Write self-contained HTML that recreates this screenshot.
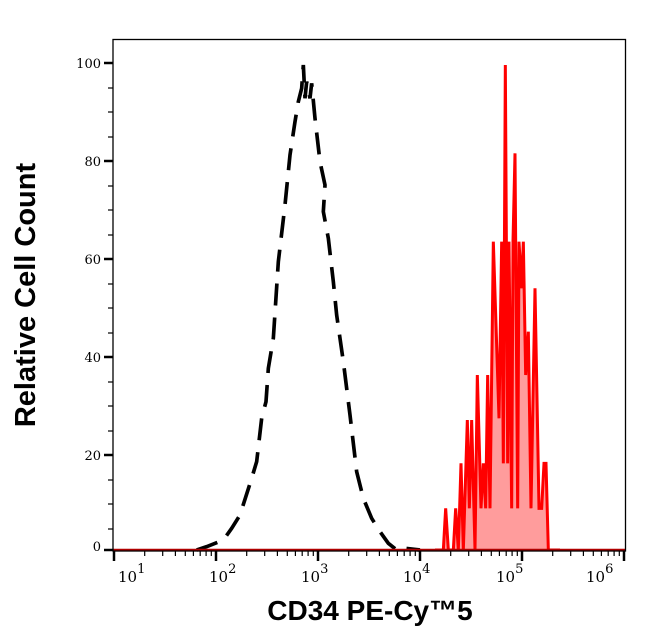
<!DOCTYPE html>
<html><head><meta charset="utf-8"><style>body{margin:0;background:#fff}svg{display:block}</style></head>
<body>
<svg width="646" height="641" viewBox="0 0 646 641" xmlns="http://www.w3.org/2000/svg">
<defs>
<g id="minor" stroke="#000" stroke-width="1.2">
<line x1="30.7" y1="551" x2="30.7" y2="556"/><line x1="48.7" y1="551" x2="48.7" y2="556"/><line x1="61.4" y1="551" x2="61.4" y2="556"/><line x1="71.3" y1="551" x2="71.3" y2="556"/><line x1="79.4" y1="551" x2="79.4" y2="556"/><line x1="86.2" y1="551" x2="86.2" y2="556"/><line x1="92.1" y1="551" x2="92.1" y2="556"/><line x1="97.3" y1="551" x2="97.3" y2="556"/>
<line x1="0" y1="551" x2="0" y2="561" stroke-width="2.5"/>
</g>
</defs>
<rect width="646" height="641" fill="#fff"/>
<g transform="translate(435,55) scale(0.33333)">
<polygon fill="#ff9c9c" points="0,1485 25,1485 32,1360 40,1485 55,1485 62,1360 70,1485 78,1225 85,1485 97,1095 103,1360 110,1095 120,1485 127,960 138,1360 145,1225 152,1360 158,960 165,1360 175,560 192,1090 200,560 205,1225 211,30 218,1225 222,560 230,1360 234,560 240,295 248,1360 252,560 260,700 265,560 272,960 280,830 288,1360 300,700 312,1360 320,1360 327,1225 333,1225 340,1485 375,1485"/>
<polyline fill="none" stroke="#ff0000" stroke-width="9" stroke-linejoin="miter" points="0,1485 25,1485 32,1360 40,1485 55,1485 62,1360 70,1485 78,1225 85,1485 97,1095 103,1360 110,1095 120,1485 127,960 138,1360 145,1225 152,1360 158,960 165,1360 175,560 192,1090 200,560 205,1225 211,30 218,1225 222,560 230,1360 234,560 240,295 248,1360 252,560 260,700 265,560 272,960 280,830 288,1360 300,700 312,1360 320,1360 327,1225 333,1225 340,1485 375,1485"/>
</g>
<g transform="translate(190,55) scale(0.33333)">
<polyline fill="none" stroke="#000" stroke-width="11" stroke-dasharray="66,36" points="20,1485 50,1475 100,1455 125,1420 150,1380 185,1270 200,1220 215,1090 228,1040 235,940 250,850 265,620 285,450 300,300 315,200 325,140 335,100 340,30 345,130 350,80 360,130 365,85 375,190 390,320 405,390 400,470 415,550 430,680 440,780 460,920 480,1080 500,1250 520,1330 545,1390 570,1430 595,1465 620,1485 645,1480 690,1485"/>
</g>
<line x1="113" y1="550" x2="626" y2="550" stroke="#b00000" stroke-width="2.5"/>
<rect x="113" y="39.5" width="512.5" height="511.5" fill="none" stroke="#000" stroke-width="1.3"/>
<g stroke="#000" stroke-width="2.5">
<line x1="104" y1="63" x2="113" y2="63"/><line x1="104" y1="161" x2="113" y2="161"/><line x1="104" y1="259" x2="113" y2="259"/><line x1="104" y1="357" x2="113" y2="357"/><line x1="104" y1="455" x2="113" y2="455"/><line x1="104" y1="550" x2="113" y2="550"/>
</g>
<g stroke="#000" stroke-width="1.2">
<line x1="108" y1="88" x2="113" y2="88"/><line x1="108" y1="112" x2="113" y2="112"/><line x1="108" y1="137" x2="113" y2="137"/>
<line x1="108" y1="186" x2="113" y2="186"/><line x1="108" y1="210" x2="113" y2="210"/><line x1="108" y1="235" x2="113" y2="235"/>
<line x1="108" y1="284" x2="113" y2="284"/><line x1="108" y1="308" x2="113" y2="308"/><line x1="108" y1="333" x2="113" y2="333"/>
<line x1="108" y1="382" x2="113" y2="382"/><line x1="108" y1="406" x2="113" y2="406"/><line x1="108" y1="431" x2="113" y2="431"/>
<line x1="108" y1="480" x2="113" y2="480"/><line x1="108" y1="504" x2="113" y2="504"/><line x1="108" y1="529" x2="113" y2="529"/>
</g>
<g font-family="DejaVu Serif, serif" font-size="13" text-anchor="end" fill="#000">
<text x="101" y="68">100</text><text x="101" y="166">80</text><text x="101" y="264">60</text><text x="101" y="362">40</text><text x="101" y="460">20</text><text x="101" y="551">0</text>
</g>
<use href="#minor" x="114"/><use href="#minor" x="216"/><use href="#minor" x="318"/><use href="#minor" x="420"/><use href="#minor" x="522"/>
<line x1="624" y1="551" x2="624" y2="561" stroke="#000" stroke-width="2.5"/>
<g font-family="DejaVu Serif, serif" font-size="15" fill="#000">
<text x="118" y="582">10<tspan dy="-9" font-size="13">1</tspan></text>
<text x="209" y="582">10<tspan dy="-9" font-size="13">2</tspan></text>
<text x="301" y="582">10<tspan dy="-9" font-size="13">3</tspan></text>
<text x="403" y="582">10<tspan dy="-9" font-size="13">4</tspan></text>
<text x="496" y="582">10<tspan dy="-9" font-size="13">5</tspan></text>
<text x="586" y="582">10<tspan dy="-9" font-size="13">6</tspan></text>
</g>
<text x="370" y="620" font-family="Liberation Sans, sans-serif" font-weight="bold" font-size="28" text-anchor="middle">CD34 PE-Cy™5</text>
<text transform="translate(35,295) rotate(-90)" font-family="Liberation Sans, sans-serif" font-weight="bold" font-size="29" text-anchor="middle">Relative Cell Count</text>
</svg>
</body></html>
